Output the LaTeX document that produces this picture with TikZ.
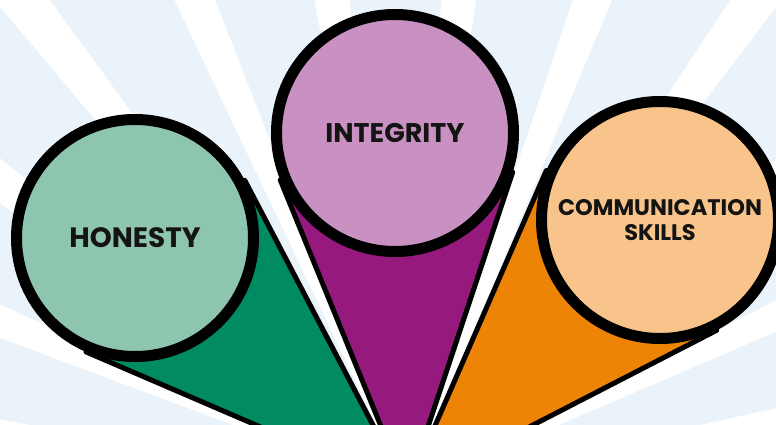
\documentclass[tikz,border=0pt]{standalone}
\usepackage{fontspec}
\setmainfont{Poppins}
\usetikzlibrary{calc}

\definecolor{skyback}{HTML}{EAF3F9}
\definecolor{honlight}{HTML}{8EC5AE}
\definecolor{hondark}{HTML}{008B63}
\definecolor{intlight}{HTML}{C891C1}
\definecolor{intdark}{HTML}{961A7E}
\definecolor{comlight}{HTML}{F8C48C}
\definecolor{comdark}{HTML}{EE8405}

\pgfdeclarelayer{back}
\pgfsetlayers{back,main}

\begin{document}
\begin{tikzpicture}[x=1pt,y=-1pt]
    \tikzstyle{bubble}=[circle, draw=black, line width=11pt, minimum size=237pt, inner sep=0pt, align=center, text=black!92]
    \tikzstyle{cone}=[draw=black, line width=5pt, line join=round]
    \tikzstyle{ray}=[fill=white]

    \useasboundingbox (0,0) rectangle (776,425);
    \clip (0,0) rectangle (776,425);

    \coordinate (apex) at (407,490);

    \node[bubble, fill=honlight, font=\bfseries\fontsize{28}{32}\selectfont] (honesty) at (135,238) {HONESTY};
    \node[bubble, fill=intlight, font=\bfseries\fontsize{27}{32}\selectfont] (integrity) at (395,133) {INTEGRITY};
    \node[bubble, fill=comlight, font=\bfseries\fontsize{22.5}{25}\selectfont] (skills) at (660,220) {COMMUNICATION\\SKILLS};

    \begin{pgfonlayer}{back}
        \clip (0,0) rectangle (776,425);
        \fill[skyback] (0,0) rectangle (776,425);
        % rays
        \foreach \a in {-6,...,5}
            \fill[ray] (apex) -- +({-86+14.7*\a}:900) -- +({-82+14.7*\a}:900) -- cycle;
        % cones
        \foreach \c/\col in {honesty/hondark, integrity/intdark, skills/comdark}
            \filldraw[cone, fill=\col] (apex) -- (tangent cs:node=\c,point={(apex)},solution=1)
                -- (\c.center) -- (tangent cs:node=\c,point={(apex)},solution=2) -- cycle;
    \end{pgfonlayer}
\end{tikzpicture}
\end{document}
